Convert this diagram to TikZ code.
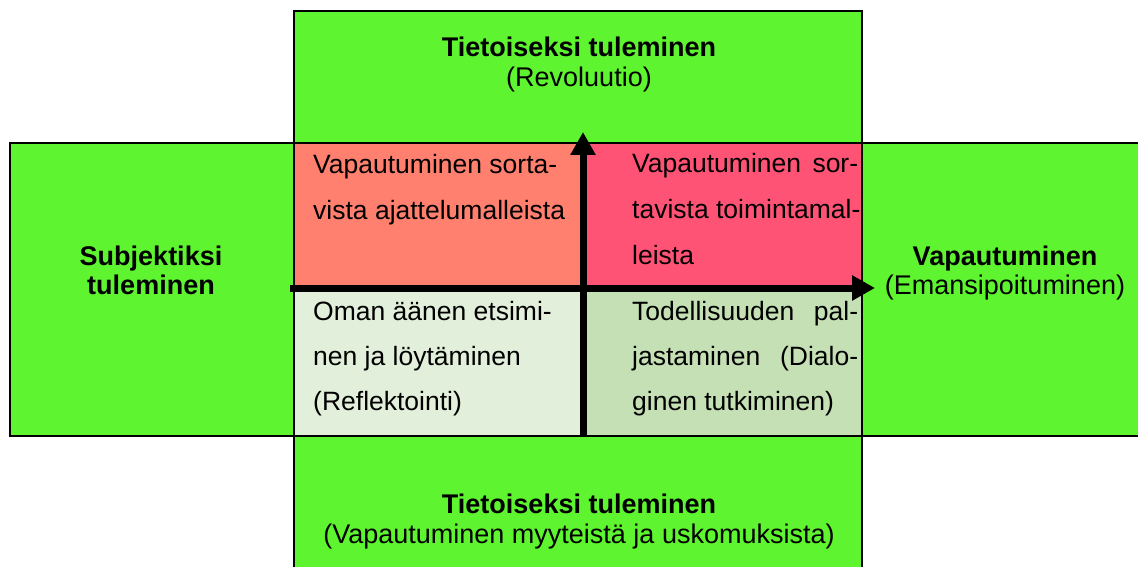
\documentclass[tikz,border=0pt]{standalone}
\usepackage{fontspec}
\setmainfont{Liberation Sans}
\usetikzlibrary{arrows.meta}
\definecolor{grn}{RGB}{94,245,48}
\definecolor{tlc}{RGB}{255,128,110}
\definecolor{trc}{RGB}{255,83,118}
\definecolor{blc}{RGB}{226,239,218}
\definecolor{brc}{RGB}{197,224,180}
\begin{document}
\begin{tikzpicture}[x=1pt,y=-1pt,
  box/.style={draw=black,line width=2.5pt,fill=grn,inner sep=0pt,outer sep=0pt,anchor=north west},
  quad/.style={inner sep=0pt,outer sep=0pt,anchor=north west},
  qtxt/.style={anchor=base west,inner sep=0pt,font=\fontsize{26.5}{30}\selectfont},
  lbl/.style={anchor=base,inner sep=0pt,font=\fontsize{27}{30}\selectfont},
  lblb/.style={anchor=base,inner sep=0pt,font=\fontsize{27}{30}\selectfont\bfseries},
  axis/.style={line width=7pt,-{Triangle[width=24pt,length=23pt]}}]
\useasboundingbox (0,0) rectangle (1138,567);
% green outer boxes
\node[box,minimum width=568pt,minimum height=132pt] (top) at (294,11) {};
\node[box,minimum width=284pt,minimum height=293pt] (left) at (10,143) {};
\node[box,minimum width=282pt,minimum height=293pt] (right) at (862,143) {};
\node[box,minimum width=568pt,minimum height=134pt] (bottom) at (294,436) {};
% quadrants
\node[quad,fill=tlc,minimum width=289pt,minimum height=145pt] (tl) at (294,143) {};
\node[quad,fill=trc,minimum width=279pt,minimum height=145pt] (tr) at (583,143) {};
\node[quad,fill=blc,minimum width=289pt,minimum height=148pt] (bl) at (294,288) {};
\node[quad,fill=brc,minimum width=279pt,minimum height=148pt] (br) at (583,288) {};
\draw[line width=2.5pt] (tl.north west) rectangle (br.south east);
% axes
\coordinate (hs) at (290,288);
\coordinate (he) at (875,288);
\coordinate (vs) at (583,437);
\coordinate (ve) at (583,132);
\draw[axis] (vs) -- (ve);
\draw[axis] (hs) -- (he);
% quadrant texts
\node[qtxt] (tl1) at (313,173) {Vapautuminen sorta-};
\node[qtxt] (tl2) at (313,219) {vista ajattelumalleista};
\node[qtxt] (tr1) at (632,172) {\makebox[226pt][s]{Vapautuminen sor-}};
\node[qtxt] (tr2) at (632,218) {tavista toimintamal-};
\node[qtxt] (tr3) at (632,264) {leista};
\node[qtxt] (bl1) at (313,320) {Oman äänen etsimi-};
\node[qtxt] (bl2) at (313,365) {nen ja löytäminen};
\node[qtxt] (bl3) at (313,410) {(Reflektointi)};
\node[qtxt] (br1) at (632,320) {\makebox[226pt][s]{Todellisuuden pal-}};
\node[qtxt] (br2) at (632,365) {\makebox[226pt][s]{jastaminen (Dialo-}};
\node[qtxt] (br3) at (632,410) {ginen tutkiminen)};
% labels
\node[lblb] (topa) at (579,57) {Tietoiseksi tuleminen};
\node[lbl] (topb) at (579,87) {(Revoluutio)};
\node[lblb] (bota) at (579,513) {Tietoiseksi tuleminen};
\node[lbl] (botb) at (579,543) {(Vapautuminen myyteistä ja uskomuksista)};
\node[lblb] (lefta) at (151,265) {Subjektiksi};
\node[lblb] (leftb) at (151,294) {tuleminen};
\node[lblb] (righta) at (1005,265) {Vapautuminen};
\node[lbl] (rightb) at (1005,294) {(Emansipoituminen)};
\end{tikzpicture}
\end{document}
